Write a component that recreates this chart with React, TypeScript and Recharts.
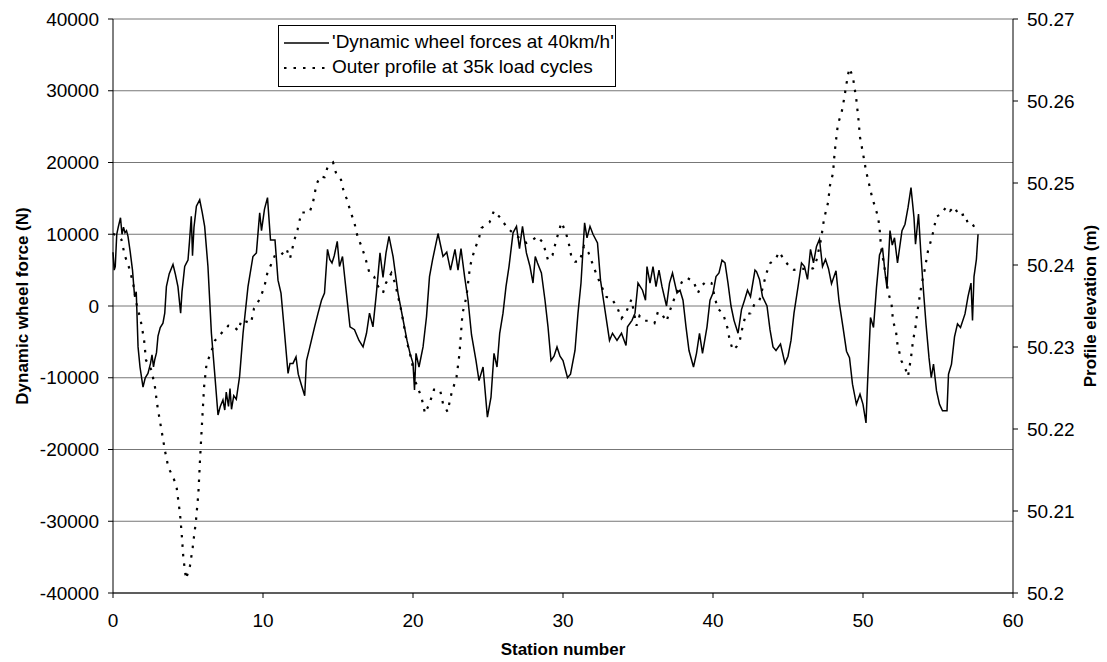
import { LineChart, Line, XAxis, YAxis, CartesianGrid, Legend } from 'recharts';

// Station number vs dynamic wheel force (N), solid line
const forceStations = [
  0, 0.08, 0.15, 0.25, 0.35, 0.5, 0.6, 0.7, 0.8, 0.9, 1.0, 1.15, 1.3, 1.44, 1.55, 1.67, 1.8, 2.0, 2.15, 2.33,
  2.5, 2.6, 2.7, 2.78, 2.9, 3.0, 3.15, 3.33, 3.45, 3.56, 3.75, 4.0, 4.15, 4.33, 4.51, 4.6, 4.78, 4.9, 5.0, 5.1,
  5.22, 5.3, 5.4, 5.56, 5.78, 5.95, 6.11, 6.33, 6.56, 6.78, 7.0, 7.15, 7.33, 7.45, 7.55, 7.7, 7.8, 7.9, 8.05, 8.22,
  8.44, 8.67, 9.0, 9.33, 9.56, 9.7, 9.78, 9.9, 10.1, 10.3, 10.5, 10.8, 11.0, 11.2, 11.4, 11.67, 11.8, 12.0, 12.2, 12.35,
  12.56, 12.78, 12.9, 13.1, 13.44, 13.67, 13.9, 14.1, 14.3, 14.45, 14.6, 14.75, 14.95, 15.1, 15.3, 15.56, 15.8, 16.1, 16.4, 16.67,
  16.9, 17.1, 17.33, 17.56, 17.8, 18.0, 18.2, 18.4, 18.67, 19.0, 19.3, 19.6, 19.8, 20.0, 20.1, 20.2, 20.4, 20.67, 20.9, 21.1,
  21.3, 21.67, 22.0, 22.25, 22.5, 22.8, 23.0, 23.2, 23.44, 23.67, 23.9, 24.2, 24.4, 24.67, 24.96, 25.2, 25.4, 25.6, 25.78, 26.0,
  26.2, 26.4, 26.67, 26.9, 27.1, 27.3, 27.56, 27.8, 28.0, 28.15, 28.3, 28.56, 28.8, 29.0, 29.2, 29.4, 29.6, 29.8, 30.0, 30.3,
  30.5, 30.8, 31.0, 31.2, 31.44, 31.6, 31.8, 32.0, 32.3, 32.5, 32.7, 32.9, 33.1, 33.3, 33.6, 33.9, 34.2, 34.3, 34.6, 34.8,
  35.0, 35.3, 35.5, 35.6, 35.8, 36.0, 36.2, 36.4, 36.6, 36.9, 37.1, 37.3, 37.6, 37.8, 38.0, 38.2, 38.4, 38.7, 38.9, 39.1,
  39.3, 39.6, 39.8, 40.0, 40.2, 40.4, 40.6, 40.8, 41.0, 41.2, 41.4, 41.67, 41.9, 42.1, 42.3, 42.5, 42.8, 42.9, 43.1, 43.3,
  43.6, 43.8, 44.0, 44.2, 44.5, 44.8, 45.0, 45.2, 45.4, 45.67, 45.9, 46.1, 46.3, 46.5, 46.7, 46.9, 47.1, 47.3, 47.5, 47.7,
  47.9, 48.2, 48.4, 48.67, 48.9, 49.1, 49.3, 49.56, 49.8, 50.0, 50.2, 50.3, 50.5, 50.7, 50.9, 51.1, 51.3, 51.45, 51.6, 51.8,
  51.95, 52.1, 52.3, 52.6, 52.8, 53.0, 53.2, 53.4, 53.5, 53.7, 53.85, 54.0, 54.2, 54.4, 54.55, 54.7, 54.9, 55.1, 55.3, 55.6,
  55.7, 55.9, 56.1, 56.3, 56.5, 56.8, 57.0, 57.2, 57.3, 57.4, 57.56, 57.67,
];
const forceValues = [
  7500, 5000, 5500, 10000, 11000, 12300, 10000, 11000, 10200, 10500, 9700, 7500, 5000, 1300, 2000, -5700, -8500, -11300, -10000, -9400,
  -8000, -6800, -8500, -7500, -6500, -4200, -3000, -2400, -1000, 2700, 4500, 5800, 4500, 2700, -1000, 2000, 5500, 6000, 6400, 9000,
  12500, 7000, 11000, 13900, 14800, 13000, 11100, 5500, -3800, -9400, -15200, -14000, -13100, -14500, -12000, -14000, -11500, -14400, -12500, -13000,
  -9800, -3800, 2700, 6900, 7400, 11000, 13000, 10500, 13500, 15100, 9200, 9200, 3600, 1800, -2900, -9400, -8000, -8000, -7100, -9500,
  -11000, -12500, -7600, -5900, -2900, -1000, 800, 1800, 7900, 6500, 6000, 7000, 9000, 5500, 6900, 1800, -2900, -3300, -4800, -5700,
  -3800, -1000, -2900, 1800, 7400, 4000, 7400, 9700, 6900, 1800, -1500, -4800, -6600, -8000, -11700, -6600, -8500, -5700, -1500, 4100,
  6400, 10100, 6900, 7500, 5000, 7900, 5000, 8000, 4100, 800, -4000, -7600, -10400, -8500, -15500, -12700, -6600, -8500, -3800, -1000,
  2700, 5500, 10200, 11100, 8000, 11100, 7400, 5500, 3200, 6900, 6000, 4600, 800, -2900, -7600, -7000, -5700, -7000, -7600, -10000,
  -9500, -6200, -1000, 3200, 11600, 9500, 11100, 10000, 8800, 3600, 800, -2000, -4800, -3800, -4800, -3800, -5500, -2900, -2000, -1000,
  3200, 2200, 800, 5500, 3200, 5500, 2700, 5000, 2700, 0, 3200, 4600, 1800, 2200, 800, -2900, -6200, -8500, -6600, -3800,
  -6600, -2900, 800, 1800, 4100, 4600, 6400, 6000, 3200, 0, -2000, -3800, -500, 800, 2200, 1300, 5000, 4800, 3700, 1300,
  0, -3300, -5700, -6200, -5300, -8000, -7000, -4800, -1000, 2700, 6000, 5500, 3700, 7900, 6000, 8300, 9300, 5500, 6500, 5200,
  3100, 4900, 700, -3000, -6300, -7200, -10900, -13700, -12300, -13700, -16300, -10900, -1600, -3000, 2600, 7100, 8100, 5000, 2500, 10500,
  8500, 9500, 6000, 10500, 11400, 13700, 16500, 12300, 8600, 12800, 7600, 3000, -2500, -7200, -10000, -8100, -11800, -13700, -14600, -14600,
  -9500, -8100, -4300, -2500, -3000, -1100, 1300, 3200, -2000, 4100, 6500, 10000,
];

// Station number vs outer profile elevation (m), dotted line
const profileStations = [
  0, 0.3, 0.56, 0.78, 1.05, 1.33, 1.55, 1.84, 2.07, 2.2, 2.56, 2.8, 2.96, 3.2, 3.47, 3.69, 4.02, 4.24, 4.47, 4.58,
  4.69, 4.87, 5.13, 5.31, 5.53, 5.69, 5.8, 5.91, 6.07, 6.24, 6.51, 6.8, 7.24, 7.69, 8.02, 8.36, 8.56, 9.2, 9.4, 9.8,
  10.1, 10.3, 10.6, 10.8, 11.2, 11.56, 11.8, 12.1, 12.3, 12.56, 13.1, 13.33, 13.56, 13.8, 14.1, 14.3, 14.67, 14.9, 15.2, 15.4,
  15.6, 15.8, 16.1, 16.3, 16.56, 16.8, 17.1, 17.4, 17.67, 18.0, 18.2, 18.56, 18.8, 19.2, 19.56, 19.9, 20.2, 20.56, 20.8, 21.1,
  21.4, 21.8, 22.0, 22.3, 22.56, 22.9, 23.1, 23.2, 23.3, 23.56, 23.8, 24.0, 24.2, 24.4, 24.56, 25.1, 25.4, 25.8, 26.3, 26.67,
  27.1, 27.56, 28.0, 28.3, 28.67, 29.0, 29.3, 29.56, 29.9, 30.2, 30.4, 30.56, 30.8, 31.1, 31.4, 31.7, 32.0, 32.2, 32.56, 32.9,
  33.2, 33.6, 33.9, 34.2, 34.56, 34.9, 35.1, 35.4, 35.8, 36.1, 36.33, 36.6, 36.9, 37.1, 37.56, 38.0, 38.3, 38.7, 39.0, 39.2,
  39.56, 39.9, 40.3, 40.67, 41.0, 41.1, 41.33, 41.6, 41.8, 42.0, 42.2, 42.5, 42.8, 43.1, 43.56, 43.8, 44.2, 44.4, 44.8, 45.1,
  45.4, 45.9, 46.3, 46.67, 46.9, 47.2, 47.4, 47.67, 47.8, 48.0, 48.1, 48.2, 48.33, 48.56, 48.67, 48.9, 49.0, 49.1, 49.33, 49.56,
  49.7, 49.8, 50.0, 50.2, 50.4, 50.6, 50.8, 51.0, 51.1, 51.2, 51.4, 51.67, 51.9, 52.0, 52.2, 52.3, 52.56, 52.8, 53.0, 53.2,
  53.33, 53.5, 53.6, 53.9, 54.1, 54.33, 54.6, 54.9, 55.2, 55.56, 55.8, 56.1, 56.4, 56.8, 57.0, 57.3, 57.56,
];
const profileValues = [
  50.2438, 50.2436, 50.2431, 50.2412, 50.2398, 50.2379, 50.2354, 50.2333, 50.2309, 50.2284, 50.2272, 50.2251, 50.2228, 50.2202, 50.2173, 50.2153, 50.2141, 50.2129, 50.2096, 50.2072,
  50.2043, 50.2017, 50.2033, 50.2055, 50.2088, 50.2121, 50.2162, 50.2199, 50.2251, 50.228, 50.2292, 50.2308, 50.2317, 50.2326, 50.2325, 50.232, 50.2333, 50.2329, 50.2347, 50.2359,
  50.2374, 50.2391, 50.2403, 50.2412, 50.2412, 50.242, 50.2408, 50.2431, 50.2443, 50.2464, 50.2464, 50.2476, 50.2498, 50.2508, 50.2507, 50.2519, 50.2525, 50.251, 50.2504, 50.2488,
  50.248, 50.2467, 50.2451, 50.2435, 50.2423, 50.241, 50.239, 50.2386, 50.2374, 50.2366, 50.2378, 50.239, 50.2378, 50.2346, 50.2309, 50.2284, 50.2256, 50.2239, 50.2219, 50.2231,
  50.2248, 50.2248, 50.2231, 50.2221, 50.2243, 50.2263, 50.2292, 50.2317, 50.2341, 50.2361, 50.2398, 50.2412, 50.2423, 50.2433, 50.2445, 50.2452, 50.2466, 50.2458, 50.2445, 50.2439,
  50.2433, 50.2427, 50.2431, 50.2435, 50.2427, 50.2406, 50.2412, 50.2431, 50.2452, 50.2439, 50.2425, 50.241, 50.2404, 50.2404, 50.2423, 50.2415, 50.24, 50.239, 50.2374, 50.2361,
  50.236, 50.2349, 50.2335, 50.2342, 50.2358, 50.2326, 50.2338, 50.2332, 50.2332, 50.2329, 50.2343, 50.234, 50.2331, 50.2343, 50.2366, 50.2382, 50.2384, 50.238, 50.2366, 50.2374,
  50.238, 50.2378, 50.2347, 50.2341, 50.2321, 50.2309, 50.2296, 50.2301, 50.2309, 50.2327, 50.234, 50.2341, 50.2354, 50.2357, 50.239, 50.2402, 50.2408, 50.2416, 50.2405, 50.2398,
  50.2394, 50.2396, 50.2394, 50.2396, 50.2406, 50.2431, 50.2456, 50.2476, 50.2497, 50.2512, 50.2535, 50.2552, 50.2572, 50.2585, 50.2595, 50.2621, 50.2632, 50.264, 50.2629, 50.2601,
  50.2577, 50.2556, 50.2536, 50.2515, 50.2499, 50.2483, 50.2471, 50.2459, 50.2446, 50.2422, 50.2401, 50.2367, 50.2353, 50.2332, 50.2319, 50.2303, 50.2283, 50.2275, 50.2264, 50.2287,
  50.2307, 50.2324, 50.234, 50.2376, 50.2393, 50.2417, 50.2434, 50.2459, 50.2462, 50.2471, 50.2466, 50.2471, 50.246, 50.2462, 50.245, 50.245, 50.2442,
];

const xTicks = [0, 10, 20, 30, 40, 50, 60];
const forceTicks = [-40000, -30000, -20000, -10000, 0, 10000, 20000, 30000, 40000];
const elevationTicks = [50.2, 50.21, 50.22, 50.23, 50.24, 50.25, 50.26, 50.27];

const forceData = forceStations.map((s, i) => ({ s, force: forceValues[i] }));
const profileData = profileStations.map((s, i) => ({ s, elevation: profileValues[i] }));

const FONT = '"Liberation Sans", Arial, sans-serif';
const tickStyle = { fill: '#000', fontSize: 19, fontFamily: FONT };
const titleStyle = { fill: '#000', fontSize: 17, fontWeight: 700, fontFamily: FONT };

function LegendBox() {
  return (
    <div style={{ position: 'relative', width: 338, height: 62, boxSizing: 'border-box', border: '1px solid #000', background: '#fff', fontFamily: FONT, fontSize: 19, color: '#000' }}>
      <svg width={50} height={62} style={{ position: 'absolute', left: 3, top: 0 }}>
        <line x1={2} x2={47} y1={17} y2={17} stroke="#000" strokeWidth={1.5} />
        <line x1={2} x2={47} y1={42} y2={42} stroke="#000" strokeWidth={2.2} strokeDasharray="2.5 7" />
      </svg>
      <div style={{ position: 'absolute', left: 53, top: 5, whiteSpace: 'nowrap' }}>'Dynamic wheel forces at 40km/h'</div>
      <div style={{ position: 'absolute', left: 53, top: 30, whiteSpace: 'nowrap' }}>Outer profile at 35k load cycles</div>
    </div>
  );
}

export default function App() {
  return (
    <div style={{ position: 'absolute', left: 0, top: 0, background: '#fff' }}>
      <LineChart width={1107} height={662} margin={{ top: 19, right: 0, bottom: 0, left: 0 }}>
        <CartesianGrid yAxisId="left" vertical={false} stroke="#777" strokeWidth={1} />
        <XAxis
          type="number"
          dataKey="s"
          domain={[0, 60]}
          ticks={xTicks}
          height={69}
          tick={tickStyle}
          tickSize={5}
          tickMargin={16}
          stroke="#000"
          label={{
            content: ({ viewBox }: any) => (
              <text x={viewBox.x + viewBox.width / 2} y={viewBox.y + 62} textAnchor="middle" style={titleStyle}>Station number</text>
            ),
          }}
        />
        <YAxis
          yAxisId="left"
          domain={[-40000, 40000]}
          ticks={forceTicks}
          width={113}
          tick={tickStyle}
          tickSize={5}
          tickMargin={9}
          stroke="#000"
          label={{
            content: ({ viewBox }: any) => {
              const cx = viewBox.x + 22;
              const cy = viewBox.y + viewBox.height / 2;
              return (
                <text x={cx} y={cy} textAnchor="middle" dominantBaseline="central" transform={`rotate(-90 ${cx} ${cy})`} style={titleStyle}>
                  Dynamic wheel force (N)
                </text>
              );
            },
          }}
        />
        <YAxis
          yAxisId="right"
          orientation="right"
          domain={[50.2, 50.27]}
          ticks={elevationTicks}
          width={94}
          tick={tickStyle}
          tickSize={5}
          tickMargin={9}
          stroke="#000"
          label={{
            content: ({ viewBox }: any) => {
              const cx = viewBox.x + 77;
              const cy = viewBox.y + viewBox.height / 2;
              return (
                <text x={cx} y={cy} textAnchor="middle" dominantBaseline="central" transform={`rotate(-90 ${cx} ${cy})`} style={titleStyle}>
                  Profile elevation (m)
                </text>
              );
            },
          }}
        />
        <Legend
          layout="vertical"
          align="center"
          verticalAlign="middle"
          wrapperStyle={{ left: 278, top: 25, width: 338 }}
          content={() => <LegendBox />}
        />
        <Line
          yAxisId="left"
          data={forceData}
          dataKey="force"
          name="'Dynamic wheel forces at 40km/h'"
          type="linear"
          stroke="#000"
          strokeWidth={1.5}
          dot={false}
          isAnimationActive={false}
        />
        <Line
          yAxisId="right"
          data={profileData}
          dataKey="elevation"
          name="Outer profile at 35k load cycles"
          type="linear"
          stroke="#000"
          strokeWidth={2.2}
          strokeDasharray="2.5 7"
          dot={false}
          isAnimationActive={false}
        />
      </LineChart>
    </div>
  );
}
